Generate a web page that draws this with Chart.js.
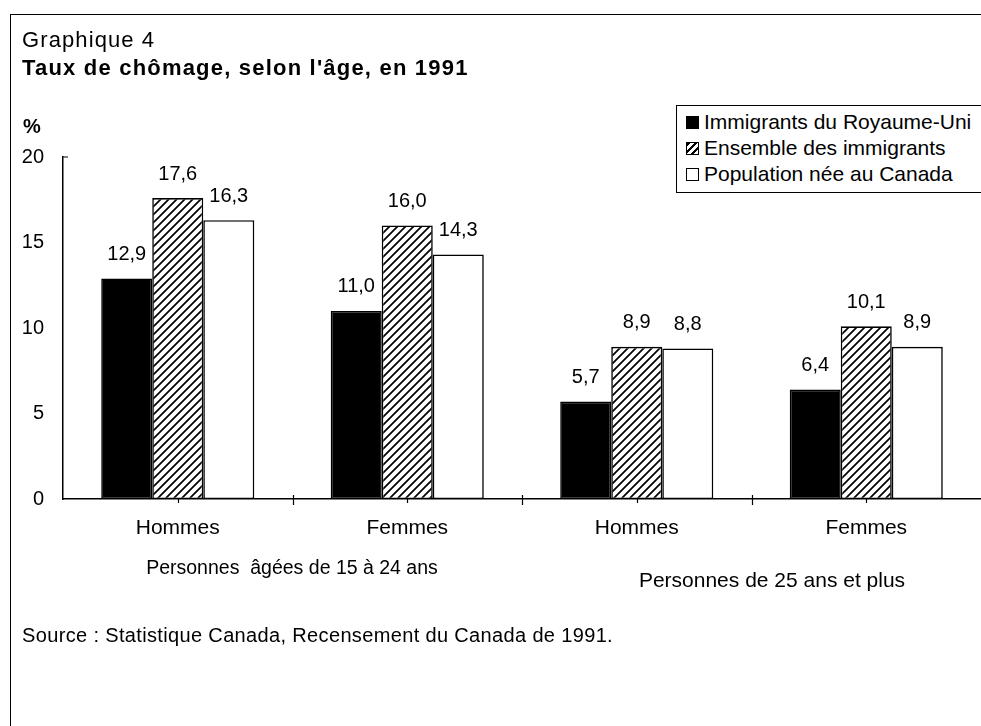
<!DOCTYPE html>
<html lang="fr">
<head>
<meta charset="utf-8">
<title>Graphique 4</title>
<script src="https://cdn.jsdelivr.net/npm/chart.js@4.4.1/dist/chart.umd.min.js"></script>
<style>
  html, body { margin: 0; padding: 0; background: #fff; }
  body { width: 981px; height: 726px; overflow: hidden; position: relative;
         font-family: "Liberation Sans", Arial, sans-serif; color: #000; }
  #frame { position: absolute; left: 10px; top: 14px; width: 1000px; height: 800px;
           border-left: 1.5px solid #000; border-top: 1.5px solid #000; }
  #chart-wrap { position: absolute; left: 0; top: 0; width: 981px; height: 726px; }
  .txt { position: absolute; white-space: pre; line-height: 1; }
  #kicker { left: 22px; top: 29px; font-size: 22px; letter-spacing: 1.1px; }
  #title { left: 22px; top: 57px; font-size: 22px; font-weight: bold; letter-spacing: 1.2px; }
  #unit { left: 23px; top: 116px; font-size: 20px; font-weight: bold; }
  #source { left: 22px; top: 625px; font-size: 20px; letter-spacing: 0.35px; }
  .group { transform: translateX(-50%); }
  #legend { position: absolute; left: 676px; top: 105px; width: 340px; height: 86px;
            border: 1.5px solid #000; background: #fff; }
  .item { position: absolute; left: 9px; height: 21px; font-size: 21px; line-height: 21px; white-space: nowrap; }
  .swatch { display: inline-block; width: 11px; height: 11px; border: 1.5px solid #000;
            vertical-align: 0px; margin-right: 5px; }
</style>
</head>
<body>
<div id="frame"></div>
<div id="chart-wrap"><canvas id="chart" width="981" height="726"></canvas></div>
<div class="txt" id="kicker">Graphique 4</div>
<div class="txt" id="title">Taux de chômage, selon l'âge, en 1991</div>
<div class="txt" id="unit">%</div>
<div class="txt group" style="left:292px; top:558px; font-size:19.5px;">Personnes  âgées de 15 à 24 ans</div>
<div class="txt group" style="left:772px; top:569px; font-size:21px;">Personnes de 25 ans et plus</div>
<div class="txt" id="source">Source : Statistique Canada, Recensement du Canada de 1991.</div>
<div id="legend"></div>
<script>
// Data
const categories = ['Hommes', 'Femmes', 'Hommes', 'Femmes'];
const seriesNames = ['Immigrants du Royaume-Uni', 'Ensemble des immigrants', 'Population née au Canada'];
const ukImmigrants = [12.9, 11.0, 5.7, 6.4];
const allImmigrants = [17.6, 16.0, 8.9, 10.1];
const canadianBorn = [16.3, 14.3, 8.8, 8.9];
const yTickValues = [0, 5, 10, 15, 20];

// diagonal hatch fill
function makeHatch() {
    const size = 8;
    const c = document.createElement('canvas');
    c.width = size; c.height = size;
    const g = c.getContext('2d');
    g.fillStyle = '#fff';
    g.fillRect(0, 0, size, size);
    g.strokeStyle = '#000';
    g.lineWidth = 1.7;
    g.beginPath();
    g.moveTo(-2, size + 2); g.lineTo(size + 2, -2);
    g.moveTo(-2, 2); g.lineTo(2, -2);
    g.moveTo(size - 2, size + 2); g.lineTo(size + 2, size - 2);
    g.stroke();
    return g.createPattern(c, 'repeat');
}

const FONT = '"Liberation Sans", Arial, sans-serif';

// value labels above bars, comma decimals
const valueLabels = {
    id: 'valueLabels',
    afterDatasetsDraw(chart) {
        const ctx = chart.ctx;
        ctx.save();
        ctx.font = '20px ' + FONT;
        ctx.fillStyle = '#000';
        ctx.textAlign = 'center';
        ctx.textBaseline = 'middle';
        chart.data.datasets.forEach((ds, i) => {
            chart.getDatasetMeta(i).data.forEach((bar, j) => {
                const txt = ds.data[j].toFixed(1).replace('.', ',');
                ctx.fillText(txt, bar.x, bar.y - 24);
            });
        });
        ctx.restore();
    }
};

// small tick marks on the category axis and the top stub of the value axis
const axisTicks = {
    id: 'axisTicks',
    afterDraw(chart) {
        const x = chart.scales.x, y = chart.scales.y;
        const ctx = chart.ctx;
        const base = y.getPixelForValue(0);
        const step = (x.right - x.left) / categories.length;
        ctx.save();
        ctx.strokeStyle = '#000';
        ctx.lineWidth = 1.2;
        ctx.beginPath();
        for (let i = 1; i < categories.length; i++) {
            const px = Math.round(x.left + i * step) + 0.5;
            ctx.moveTo(px, base - 4); ctx.lineTo(px, base + 6);
        }
        categories.forEach((c, i) => {
            const px = Math.round(x.getPixelForValue(i)) + 0.5;
            ctx.moveTo(px, base); ctx.lineTo(px, base + 4);
        });
        const top = y.getPixelForValue(20);
        ctx.moveTo(x.left, top); ctx.lineTo(x.left + 5, top);
        ctx.stroke();
        ctx.restore();
    }
};

const hatch = makeHatch();
const fills = ['#000', hatch, '#fff'];
const values = [ukImmigrants, allImmigrants, canadianBorn];

const chart = new Chart(document.getElementById('chart'), {
    type: 'bar',
    data: {
        labels: categories,
        datasets: seriesNames.map((name, i) => ({
            label: name,
            data: values[i],
            backgroundColor: fills[i],
            borderColor: '#000',
            borderWidth: 1.6,
            borderSkipped: false,
            categoryPercentage: 0.667,
            barPercentage: 1.0
        }))
    },
    options: {
        responsive: false,
        animation: false,
        events: [],
        layout: { padding: { left: 0, right: 0, top: 157, bottom: 187 } },
        plugins: {
            legend: { display: false },
            title: { display: false },
            tooltip: { enabled: false }
        },
        scales: {
            x: {
                grid: { display: false, drawTicks: false },
                border: { display: true, color: '#000', width: 1.5 },
                ticks: { color: '#000', font: { family: FONT, size: 21 }, padding: 17 },
                afterFit(scale) { scale.height = 40; }
            },
            y: {
                min: 0,
                max: 20,
                afterBuildTicks(scale) { scale.ticks = yTickValues.map(v => ({ value: v })); },
                grid: { display: false, drawTicks: false },
                border: { display: true, color: '#000', width: 1.5 },
                ticks: { color: '#000', font: { family: FONT, size: 20 }, padding: 19 },
                afterFit(scale) { scale.width = 63; }
            }
        }
    },
    plugins: [valueLabels, axisTicks]
});

// HTML legend built from the datasets
const legendEl = document.getElementById('legend');
const swatchCss = [
    'background:#000;',
    'background: repeating-linear-gradient(-45deg, #fff 0 3px, #000 3px 5px);',
    'background:#fff;'
];
chart.data.datasets.forEach((ds, i) => {
    const item = document.createElement('div');
    item.className = 'item';
    item.style.top = (5 + i * 26) + 'px';
    item.innerHTML = '<span class="swatch" style="' + swatchCss[i] + '"></span>' + ds.label;
    legendEl.appendChild(item);
});
</script>
</body>
</html>
